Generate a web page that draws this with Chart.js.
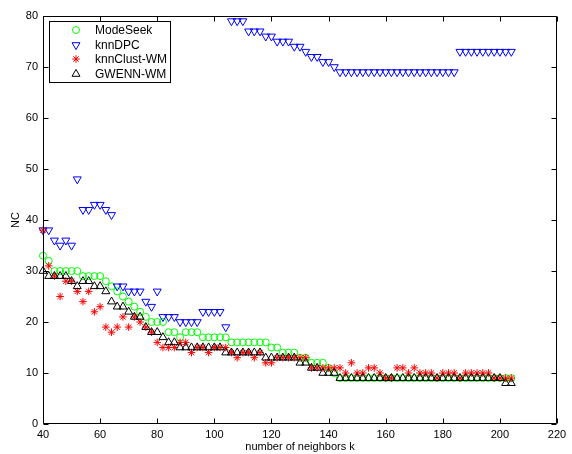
<!DOCTYPE html>
<html>
<head>
<meta charset="utf-8">
<script src="https://cdn.jsdelivr.net/npm/chart.js@4.4.0/dist/chart.umd.min.js"></script>
<style>
  html, body { margin: 0; padding: 0; background: #fff; }
  #wrap { width: 572px; height: 454px; }
</style>
</head>
<body>
<div id="wrap"><canvas id="myChart" width="572" height="454"></canvas></div>
<script>
var kValues = [40,42,44,46,48,50,52,54,56,58, 60,62,64,66,68,70,72,74,76,78,
  80,82,84,86,88,90,92,94,96,98, 100,102,104,106,108,110,112,114,116,118,
  120,122,124,126,128,130,132,134,136,138, 140,142,144,146,148,150,152,154,156,158,
  160,162,164,166,168,170,172,174,176,178, 180,182,184,186,188,190,192,194,196,198,
  200,202,204];

var modeSeek = [33,32,30,30,30,30,30,29,29,29, 29,28,27,26,25,24,23,22,21,20,
  20,20,18,18,17,18,18,18,17,17, 17,17,17,16,16,16,16,16,16,16,
  15,15,14,14,14,13,13,12,12,12, 11,10,9,9,9,9,9,9,9,9,
  9,9,9,9,9,9,9,9,9,9, 9,9,9,9,9,9,9,9,9,9,
  9,9,9];

var knnDPC = [38,38,36,35,36,35,48,42,42,43, 43,42,41,27,27,26,26,26,24,23,
  26,21,21,21,20,20,20,20,22,22, 22,22,19,79,79,79,77,77,77,76,
  76,75,75,75,74,74,73,72,72,71, 71,70,69,69,69,69,69,69,69,69,
  69,69,69,69,69,69,69,69,69,69, 69,69,69,73,73,73,73,73,73,73,
  73,73,73];

var knnClustWM = [38,31,29,25,28,28,26,24,26,22, 23,19,18,19,21,19,21,20,19,18,
  16,15,15,15,16,16,14,15,15,14, 15,15,15,14,13,14,14,13,14,12,
  12,13,13,13,13,13,13,11,11,11, 11,11,11,10,12,10,10,11,11,10,
  9,9,11,11,10,11,10,10,10,9, 10,10,10,9,10,10,10,10,10,9,
  9,9,9];

var gwennWM = [30,29,29,29,29,28,27,28,28,27, 27,26,24,23,23,22,21,21,19,18,
  18,17,16,16,15,15,15,15,15,15, 15,15,14,14,14,14,14,14,14,13,
  13,13,13,13,13,12,12,11,11,10, 10,10,9,9,9,9,9,9,9,9,
  9,9,9,9,9,9,9,9,9,9, 9,9,9,9,9,9,9,9,9,9,
  9,8,8];

var xTicks = [40,60,80,100,120,140,160,180,200,220];
var yTicks = [0,10,20,30,40,50,60,70,80];

var fontFam = "'Liberation Sans', Arial, Helvetica, sans-serif";

function toPoints(vals) {
  return kValues.map(function (k, i) { return { x: k, y: vals[i] }; });
}

var series = [
  { label: "ModeSeek", data: modeSeek, color: "#00ff00", style: "circle", rot: 0, r: 3.5, order: 4 },
  { label: "knnDPC", data: knnDPC, color: "#0000ff", style: "triangle", rot: 180, r: 4.6, order: 3 },
  { label: "knnClust-WM", data: knnClustWM, color: "#ff0000", style: "star", rot: 0, r: 3.8, order: 2 },
  { label: "GWENN-WM", data: gwennWM, color: "#000000", style: "triangle", rot: 0, r: 4.6, order: 1 }
];

function drawMarker(ctx, s, x, y) {
  ctx.save();
  ctx.strokeStyle = s.color;
  ctx.lineWidth = 1;
  ctx.beginPath();
  if (s.style == "circle") {
    ctx.arc(x, y, s.r, 0, Math.PI * 2);
  } else if (s.style == "triangle") {
    var rad = s.rot * Math.PI / 180;
    for (var i = 0; i < 3; i++) {
      var a = rad + i * 2 * Math.PI / 3;
      var px = x + Math.sin(a) * s.r, py = y - Math.cos(a) * s.r;
      if (i == 0) ctx.moveTo(px, py); else ctx.lineTo(px, py);
    }
    ctx.closePath();
  } else {
    for (var j = 0; j < 4; j++) {
      var b = j * Math.PI / 4;
      ctx.moveTo(x + Math.cos(b) * s.r, y + Math.sin(b) * s.r);
      ctx.lineTo(x - Math.cos(b) * s.r, y - Math.sin(b) * s.r);
    }
  }
  ctx.stroke();
  ctx.restore();
}

var framePlugin = {
  id: "frame",
  afterDraw: function (chart) {
    var ctx = chart.ctx, a = chart.chartArea;
    var xs = chart.scales.x, ys = chart.scales.y;
    var L = Math.round(a.left) + 0.5, R = Math.round(a.right) - 0.5;
    var T = Math.round(a.top) + 0.5, B = Math.round(a.bottom) - 0.5;
    ctx.save();
    ctx.strokeStyle = "#000";
    ctx.lineWidth = 1;
    ctx.beginPath();
    ctx.rect(L, T, R - L, B - T);
    xTicks.forEach(function (v) {
      var px = Math.round(xs.getPixelForValue(v)) + 0.5;
      ctx.moveTo(px, B); ctx.lineTo(px, B - 5);
      ctx.moveTo(px, T); ctx.lineTo(px, T + 5);
    });
    yTicks.forEach(function (v) {
      var py = Math.round(ys.getPixelForValue(v)) + 0.5;
      ctx.moveTo(L, py); ctx.lineTo(L + 5, py);
      ctx.moveTo(R, py); ctx.lineTo(R - 5, py);
    });
    ctx.stroke();

    // legend box
    var bx = 49.5, by = 21.5, bw = 121, bh = 61;
    ctx.fillStyle = "#fff";
    ctx.fillRect(bx, by, bw, bh);
    ctx.strokeRect(bx, by, bw, bh);
    ctx.font = "12px " + fontFam;
    ctx.fillStyle = "#000";
    ctx.textBaseline = "middle";
    ctx.textAlign = "left";
    var rows = [30, 45, 59, 74];
    series.forEach(function (s, i) {
      drawMarker(ctx, s, 76, rows[i]);
      ctx.fillText(s.label, 95, rows[i] + 0.5);
    });
    ctx.restore();
  }
};

var ctx = document.getElementById("myChart").getContext("2d");
var chart = new Chart(ctx, {
  type: "scatter",
  data: {
    datasets: series.map(function (s) {
      return {
        label: s.label,
        data: toPoints(s.data),
        pointStyle: s.style,
        rotation: s.rot,
        pointRadius: s.r,
        pointHoverRadius: s.r,
        pointBorderColor: s.color,
        pointBackgroundColor: "rgba(0,0,0,0)",
        pointBorderWidth: 1,
        showLine: false,
        clip: false,
        order: s.order
      };
    })
  },
  options: {
    responsive: false,
    animation: false,
    devicePixelRatio: 1,
    layout: { padding: { top: 16, right: 15, left: 0, bottom: 0 } },
    plugins: { legend: { display: false }, tooltip: { enabled: false } },
    scales: {
      x: {
        type: "linear",
        min: 40,
        max: 220,
        grid: { display: false, drawTicks: false, tickLength: 0 },
        border: { display: false },
        ticks: { stepSize: 20, autoSkip: false, maxRotation: 0, color: "#000", padding: 4,
          font: { family: fontFam, size: 11 } },
        title: { display: true, text: "number of neighbors k", color: "#000",
          font: { family: fontFam, size: 11 }, padding: { top: 0, bottom: 0 } },
        afterFit: function (scale) { scale.height = 30; }
      },
      y: {
        type: "linear",
        min: 0,
        max: 80,
        grid: { display: false, drawTicks: false, tickLength: 0 },
        border: { display: false },
        ticks: { stepSize: 10, autoSkip: false, color: "#000", padding: 5,
          font: { family: fontFam, size: 11 } },
        title: { display: true, text: "NC", color: "#000",
          font: { family: fontFam, size: 11 }, padding: { top: 9, bottom: 0 } },
        afterFit: function (scale) { scale.width = 43; }
      }
    }
  },
  plugins: [framePlugin]
});
</script>
</body>
</html>
